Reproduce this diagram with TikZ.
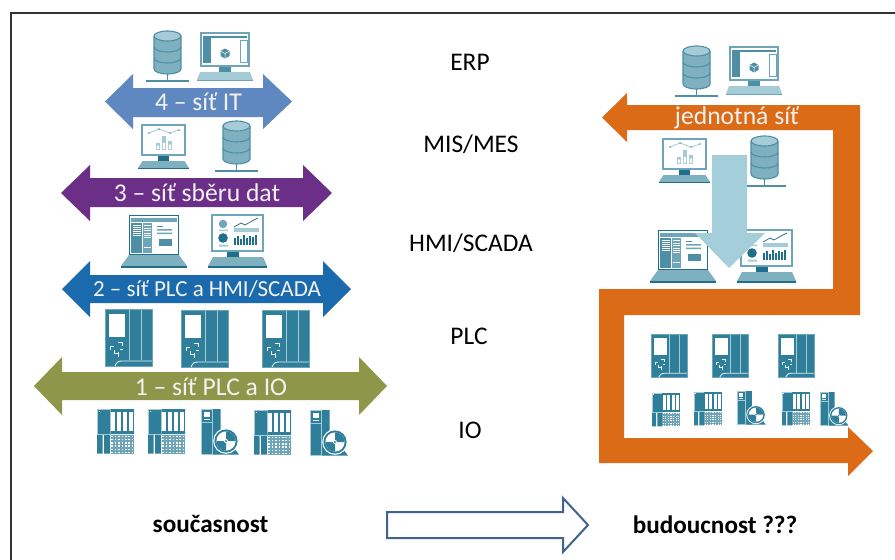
\documentclass[tikz,border=0pt]{standalone}
\usepackage{fontspec}
\setmainfont{Carlito}
\definecolor{teal1}{HTML}{2F7F9B}
\definecolor{teal2}{HTML}{7FB0BF}
\definecolor{teal3}{HTML}{A5CBD6}
\definecolor{teal4}{HTML}{4F8FA6}
\definecolor{teal5}{HTML}{1F6F8A}
\definecolor{teal6}{HTML}{6FA5B8}
\definecolor{cIT}{HTML}{6088C0}
\definecolor{cDat}{HTML}{6C2F87}
\definecolor{cPlc}{HTML}{1B6AAE}
\definecolor{cIo}{HTML}{8E9649}
\definecolor{cOr}{HTML}{DC6B17}
\definecolor{cDown}{HTML}{A5CEDB}
\definecolor{cOut}{HTML}{41648F}
\tikzset{
 lvl/.style={font=\fontsize{25.4}{28}\selectfont,text=black,inner sep=0pt},
 net/.style={font=\fontsize{25.6}{28}\selectfont,text=white!95!black,inner sep=0pt},
 netsmall/.style={font=\fontsize{23}{28}\selectfont,text=white!95!black,inner sep=0pt},
 captxt/.style={font=\fontsize{25.2}{28}\selectfont\bfseries,text=black,inner sep=0pt},
 screenfr/.style={draw=teal6,line width=1.1pt,fill=white},
 sv/.pic={
  \draw[teal4,line width=1pt] (21.5,43)--(21.5,50);
  \draw[teal4,line width=1.2pt] (0,50)--(43,50);
  \fill[teal2] (8,5) -- (8,38) arc[start angle=180,end angle=0,x radius=13.5,y radius=5] -- (35,5) -- cycle;
  \draw[teal4,line width=1.1pt] (8,5) -- (8,38) arc[start angle=180,end angle=0,x radius=13.5,y radius=5] -- (35,5);
  \draw[teal4,line width=1.1pt] (8,16) arc[start angle=180,end angle=0,x radius=13.5,y radius=5];
  \draw[teal4,line width=1.1pt] (8,27) arc[start angle=180,end angle=0,x radius=13.5,y radius=5];
  \draw[teal4,line width=1.1pt,fill=teal3] (21.5,5) ellipse[x radius=13.5,y radius=5];
 },
 mcube/.pic={
  \fill[teal4] (22,33) rectangle (34,39);
  \fill[teal3] (3,39)--(53,39)--(56,47)--(0,47)--cycle;
  \fill[teal6] (0,47) rectangle (56,48);
  \draw[screenfr] (4,0) rectangle (52,33);
  \fill[teal4] (6,2.5) rectangle (50,5);
  \fill[teal4] (6,2.5) rectangle (14,30);
  \draw[teal6,line width=.8pt] (43,7) rectangle (50,29);
  \fill[teal4] (28,15.5)--(32.5,18)--(32.5,23)--(28,25.5)--(23.5,23)--(23.5,18)--cycle;
  \draw[white,line width=.5pt] (23.5,18)--(28,20.5)--(32.5,18) (28,20.5)--(28,25.5);
 },
 mchart/.pic={
  \fill[teal5] (20,30) rectangle (31,36);
  \fill[teal2] (4.5,36)--(46.5,36)--(51,43)--(0,43)--cycle;
  \fill[teal5] (0,43) rectangle (51,44.2);
  \draw[screenfr] (4,0) rectangle (47,30);
  \draw[teal3,line width=.8pt] (11,8)--(21,4)--(32,8)--(41,5);
  \foreach \p in {(11,8),(21,4),(32,8),(41,5)} \fill[teal6] \p circle(1);
  \fill[teal3] (18,18) rectangle (22,25);
  \fill[teal3] (24,11) rectangle (28,25);
  \fill[teal3] (30,16) rectangle (34,25);
  \fill[white] (18.8,20.5) rectangle (21.2,24.2) (24.8,18) rectangle (27.2,24.2) (30.8,19.5) rectangle (33.2,24.2);
 },
 laptop/.pic={
  \fill[teal2] (8,40)--(58,40)--(66,51)--(0,51)--cycle;
  \fill[teal5] (0,51) rectangle (66,53) ;
  \draw[teal5,line width=1.6pt,fill=white] (8.5,.5) rectangle (57.5,39.5);
  \fill[teal6] (10,3) rectangle (56,7);
  \fill[teal4] (10,8) rectangle (21,37.5);
  \fill[teal6] (21.5,8) rectangle (31,37.5);
  \foreach \yy in {10,12,14,16,18,20} \fill[white] (12,\yy) rectangle (20,\yy+.9);
  \foreach \yy in {10,12.5,15,17.5,20,22,32} \fill[white] (23,\yy) rectangle (30,\yy+.7);
  \fill[teal4] (36,11) rectangle (42,12);
  \fill[teal6] (36,14) rectangle (51,15.5) (36,17.5) rectangle (51,19);
  \fill[teal4] (38,24) rectangle (51,31);
 },
 mdash/.pic={
  \fill[teal5] (19,36) rectangle (31,42);
  \fill[teal2] (5,42)--(55,42)--(59,51)--(0,51)--cycle;
  \fill[teal5] (0,51) rectangle (59,52.5);
  \draw[screenfr] (4,0) rectangle (55,36);
  \fill[teal6] (15,9) circle(4.2);
  \fill[teal5] (15,23) circle(4.8);
  \fill[teal3] (11,14.5) rectangle (20,16) (11,29.5) rectangle (20,31.5) (26,13) rectangle (51,17);
  \draw[teal5,line width=.7pt] (26,12)--(33,8)--(37,10)--(44,6)--(50,3);
  \foreach \xx/\hh in {26/7,29/9,32/6,35/10,38/7,41/9,44/8,47/10} \fill[teal5] (\xx,30)rectangle(\xx+2.4,30-\hh);
 },
 plc/.pic={
  \fill[teal1] (0,0) rectangle (47,57);
  \fill[white] (4,5) rectangle (20,28);
  \draw[teal3,line width=.8pt] (24,0)--(24,51) (36,0)--(36,51);
  \draw[white!70!teal3,line width=.9pt] (10,57) .. controls (12,53) and (13,52) .. (17,52) -- (47,52);
  \draw[white!70!teal3,line width=.8pt] (5,41)--(5,37)--(9,37) (13,33)--(17,33)--(17,37) (9,41)--(9,44)--(13,44) (13,48)--(13,43) (15,40)--(18,40);
  \draw[teal6,line width=.4pt] (0,0) rectangle (47,57);
 },
 iobox/.pic={
  \fill[teal1] (0,0) rectangle (13,25) (0,26) rectangle (5.5,44.5) (7,26) rectangle (13,44.5);
  \draw[teal3,line width=.5pt] (0,0) rectangle (13,25);
  \fill[white] (1.5,1.5) rectangle (3,3);
  \fill[teal1] (13.5,0) rectangle (37,3) (13.5,22) rectangle (37,25);
  \fill[teal1] (13.5,3) rectangle (37,22);
  \foreach \xx in {14,20,26,32} \fill[white] (\xx,3) rectangle (\xx+4.3,22);
  \fill[teal6] (13.5,26) rectangle (37,44.5);
  \foreach \xx in {14.4,17.8,21.2,24.6,28,31.4,34.8}
   \foreach \yy in {26.8,30,33.2,36.4,39.6,42.8} \fill[white] (\xx,\yy) rectangle (\xx+1.5,\yy+1.4);
 },
 drive/.pic={
  \fill[teal1] (0,0) rectangle (11,45) (11.5,0) rectangle (19.5,45);
  \draw[teal3,line width=.6pt] (0,0) rectangle (11,45) (0,13)--(11,13);
  \fill[white] (2.5,2.5) rectangle (8.5,8);
  \draw[white!60!teal3,line width=.4pt] (2.5,10) -- (8.5,10);
  \fill[teal1] (12,45.5)--(17,39)--(33,39)--(38,45.5)--cycle;
  \fill[white] (25,32) circle(12.8);
  \fill[teal1] (25,32) circle(11.6);
  \fill[white] (25,32) circle(9.6);
  \fill[teal1] (25,32)--(25,22.4) arc[start angle=-90,end angle=0,x radius=9.6,y radius=9.6]--cycle;
  \fill[teal1] (25,32)--(25,41.6) arc[start angle=90,end angle=180,x radius=9.6,y radius=9.6]--cycle;
  \fill[white] (25,32) circle(2);
  \fill[teal1] (25,32) circle(1.2);
 },
}
\begin{document}
\begin{tikzpicture}[x=1pt,y=-1pt]
\useasboundingbox (0,0) rectangle (895,560);
\fill[white] (0,0) rectangle (895,560);
\draw[black!80,line width=1.2pt] (895,13) -- (11,13) -- (11,560);
% left icons
\pic at (146,31) {sv};
\pic at (197,33) {mcube};
\pic at (138,125) {mchart};
\pic at (215,121) {sv};
\pic at (121,215) {laptop};
\pic at (208,215) {mdash};
\pic at (105,309) {plc};
\pic at (181,310) {plc};
\pic at (262,310) {plc};
\pic at (97,409) {iobox};
\pic at (148,409) {iobox};
\pic at (201,409) {drive};
\pic at (254,410) {iobox};
\pic at (310,410) {drive};
% double arrows
\fill[cIT] (105,101.5)--(133,74)--(133,88)--(263,88)--(263,74)--(292,101.5)--(263,129)--(263,117)--(133,117)--(133,129)--cycle;
\fill[cDat] (61,193)--(90,165)--(90,178)--(303,178)--(303,165)--(332,193)--(303,221)--(303,207)--(90,207)--(90,221)--cycle;
\fill[cPlc] (62,289)--(90,261)--(90,275)--(323,275)--(323,261)--(351,289)--(323,317)--(323,303)--(90,303)--(90,317)--cycle;
\fill[cIo] (34,386)--(62,357)--(62,372)--(359,372)--(359,357)--(387,386)--(359,415)--(359,400)--(62,400)--(62,415)--cycle;
\node[net] (n4) at (198.5,102) {4 – síť IT};
\node[net] (n3) at (197,193) {3 – síť sběru dat};
\node[netsmall] (n2) at (207,289) {2 – síť PLC a HMI/SCADA};
\node[net] (n1) at (211,387) {1 – síť PLC a IO};
% level labels
\node[lvl] (erp) at (470,62) {ERP};
\node[lvl] (mis) at (471,144) {MIS/MES};
\node[lvl] (hmi) at (471,243) {HMI/SCADA};
\node[lvl] (plcl) at (469,336) {PLC};
\node[lvl] (iol) at (470,430) {IO};
% right icons
\pic at (675,46) {sv};
\pic at (726,47) {mcube};
\pic at (659,139) {mchart};
\pic at (743,136) {sv};
\pic at (650,230) {laptop};
\pic at (737,230) {mdash};
\pic[xscale=.78,yscale=.755] at (651,334) {plc};
\pic[xscale=.78,yscale=.755] at (712,334) {plc};
\pic[xscale=.78,yscale=.755] at (778,334) {plc};
\pic[xscale=.75,yscale=.75] at (652,393) {iobox};
\pic[xscale=.75,yscale=.75] at (694,392) {iobox};
\pic[xscale=.76,yscale=.74] at (737,391) {drive};
\pic[xscale=.75,yscale=.75] at (782,392) {iobox};
\pic[xscale=.75,yscale=.74] at (820,392) {drive};
% down arrow
\fill[cDown] (712,155)--(747,155)--(747,233)--(765,233)--(729,268)--(695,233)--(712,233)--cycle;
% orange snake
\fill[cOr] (602,117.5)--(627,93)--(627,105)--(860,105)--(860,315)--(624,315)--(624,438)--(848,438)--(848,427)--(873,451)--(848,476)--(848,463)--(599,463)--(599,289)--(833,289)--(833,130)--(627,130)--(627,142)--cycle;
\node[net] (jed) at (737,118) {jednotná síť};
% bottom
\node[captxt] (now) at (210.5,524) {současnost};
\node[captxt] (fut) at (715,525) {budoucnost ???};
\draw[cOut,line width=2pt] (387,512)--(563,512)--(563,498)--(588,525)--(563,552)--(563,538)--(387,538)--cycle;
\end{tikzpicture}
\end{document}
